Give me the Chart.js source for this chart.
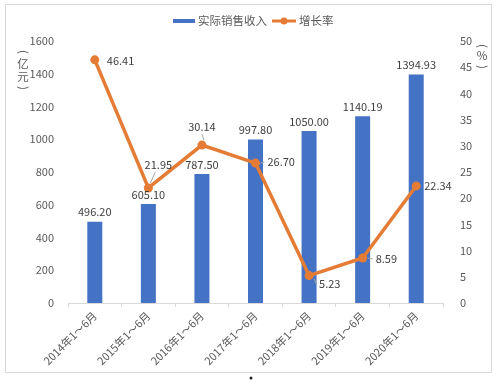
<!DOCTYPE html>
<html>
<head>
<meta charset="utf-8">
<script src="https://cdn.jsdelivr.net/npm/chart.js@4"></script>
<style>
  html, body { margin: 0; padding: 0; background: #fff; }
  #wrap { width: 500px; height: 384px; }
</style>
</head>
<body>
<div id="wrap"><canvas id="chart" width="500" height="384"></canvas></div>
<script>
const periods = ['2014年1～6月', '2015年1～6月', '2016年1～6月', '2017年1～6月', '2018年1～6月', '2019年1～6月', '2020年1～6月']
const revenue = [496.20, 605.10, 787.50, 997.80, 1050.00, 1140.19, 1394.93]
const growth = [46.41, 21.95, 30.14, 26.70, 5.23, 8.59, 22.34]
const leftTicks = [0, 200, 400, 600, 800, 1000, 1200, 1400, 1600]
const rightTicks = [0, 5, 10, 15, 20, 25, 30, 35, 40, 45, 50]

const FONT = '"Noto Sans CJK SC", "Noto Sans", sans-serif'
const BLUE = '#4472C4'
const ORANGE = '#E47C35'
const GREY = '#595959'

// where each growth label sits relative to its point
const growthPos = [
  { dx: 12, dy: 1, align: 'left' },
  { dx: 10, dy: -23, align: 'center', lead: true },
  { dx: 0, dy: -18, align: 'center', lead: true },
  { dx: 12, dy: -1, align: 'left', lead: true },
  { dx: 10, dy: 8, align: 'left', lead: true },
  { dx: 13, dy: 1, align: 'left', lead: true },
  { dx: 8, dy: 0, align: 'left' }
]

const decor = {
  id: 'decor',
  beforeDraw(chart) {
    const c = chart.ctx
    c.save()
    c.fillStyle = '#fff'
    c.fillRect(0, 0, chart.width, chart.height)
    c.strokeStyle = '#d9d9d9'
    c.lineWidth = 1
    c.strokeRect(5.5, 4.5, 486, 368)
    c.restore()
  },
  afterDatasetsDraw(chart) {
    const c = chart.ctx
    c.save()
    c.font = '11px ' + FONT
    c.fillStyle = '#404040'
    // bar value labels
    chart.getDatasetMeta(0).data.forEach((el, i) => {
      c.textAlign = 'center'
      c.textBaseline = 'bottom'
      c.fillText(revenue[i].toFixed(2), el.x, el.y - 4)
    })
    // growth value labels
    chart.getDatasetMeta(1).data.forEach((el, i) => {
      const p = growthPos[i]
      const tx = el.x + p.dx, ty = el.y + p.dy
      if (p.lead) {
        c.strokeStyle = '#a6a6a6'
        c.lineWidth = 1
        c.beginPath()
        if (p.align === 'center') {
          c.moveTo(el.x + 2, el.y - 5); c.lineTo(tx - (p.dx ? 3 : 0), ty + 7)
        } else {
          c.moveTo(el.x + 5, el.y + (p.dy > 4 ? 3 : 0))
          c.lineTo(tx - 3, ty)
        }
        c.stroke()
      }
      c.textAlign = p.align
      c.textBaseline = 'middle'
      c.fillText(growth[i].toFixed(2), tx, ty)
    })
    c.restore()
  },
  afterDraw(chart) {
    const c = chart.ctx
    c.save()
    // legend
    c.font = '11.5px ' + FONT
    c.textBaseline = 'middle'
    c.textAlign = 'left'
    c.fillStyle = BLUE
    c.fillRect(173, 19, 22, 4)
    c.fillStyle = GREY
    c.fillText(chart.data.datasets[0].label, 198, 21)
    c.strokeStyle = ORANGE
    c.lineWidth = 3
    c.beginPath(); c.moveTo(272, 21); c.lineTo(296, 21); c.stroke()
    c.fillStyle = ORANGE
    c.beginPath(); c.arc(284, 21, 3.5, 0, Math.PI * 2); c.fill()
    c.fillStyle = GREY
    c.fillText(chart.data.datasets[1].label, 299, 21)
    // vertical axis titles, parentheses turned on their side
    c.font = '11.5px ' + FONT
    c.textAlign = 'center'
    c.textBaseline = 'middle'
    const paren = (ch, x, y) => {
      c.save(); c.translate(x, y); c.rotate(Math.PI / 2); c.fillText(ch, 0, 0); c.restore()
    }
    paren('(', 23, 52)
    c.fillText('亿', 23, 64)
    c.fillText('元', 23, 77)
    paren(')', 23, 88)
    paren('(', 482, 46)
    c.fillText('%', 482, 56)
    paren(')', 482, 67)
    // stray dot under the frame
    c.fillStyle = '#222'
    c.beginPath(); c.arc(251, 378, 1.5, 0, Math.PI * 2); c.fill()
    c.restore()
  }
}

const plain = v => String(v)

new Chart(document.getElementById('chart'), {
  type: 'bar',
  data: {
    labels: periods,
    datasets: [{
      label: '实际销售收入',
      data: revenue,
      backgroundColor: BLUE,
      yAxisID: 'y',
      order: 1,
      barPercentage: 0.28,
      categoryPercentage: 1
    }, {
      type: 'line',
      label: '增长率',
      data: growth,
      borderColor: ORANGE,
      backgroundColor: ORANGE,
      borderWidth: 3.5,
      pointRadius: 4.5,
      pointBackgroundColor: ORANGE,
      pointBorderWidth: 0,
      tension: 0,
      yAxisID: 'y1',
      order: 0
    }]
  },
  options: {
    responsive: false,
    animation: false,
    layout: { padding: { top: 41, left: 0, right: 0, bottom: 0 } },
    plugins: {
      legend: { display: false },
      tooltip: { enabled: false }
    },
    scales: {
      x: {
        offset: true,
        grid: { display: true, drawOnChartArea: false, offset: true, tickLength: 4, color: '#d9d9d9' },
        border: { display: true, color: '#d9d9d9' },
        ticks: { minRotation: 45, maxRotation: 45, color: GREY, font: { family: FONT, size: 11 }, padding: 2 },
        afterFit(s) { s.height = 81 }
      },
      y: {
        position: 'left',
        min: 0, max: 1600,
        afterBuildTicks(s) { s.ticks = leftTicks.map(v => ({ value: v })) },
        grid: { display: false },
        border: { display: false },
        ticks: { color: GREY, font: { family: FONT, size: 11 }, padding: 6, callback: plain },
        afterFit(s) { s.width = 68 }
      },
      y1: {
        position: 'right',
        min: 0, max: 50,
        afterBuildTicks(s) { s.ticks = rightTicks.map(v => ({ value: v })) },
        grid: { display: false },
        border: { display: false },
        ticks: { color: GREY, font: { family: FONT, size: 11 }, padding: 9, callback: plain },
        afterFit(s) { s.width = 57 }
      }
    }
  },
  plugins: [decor]
})
</script>
</body>
</html>
